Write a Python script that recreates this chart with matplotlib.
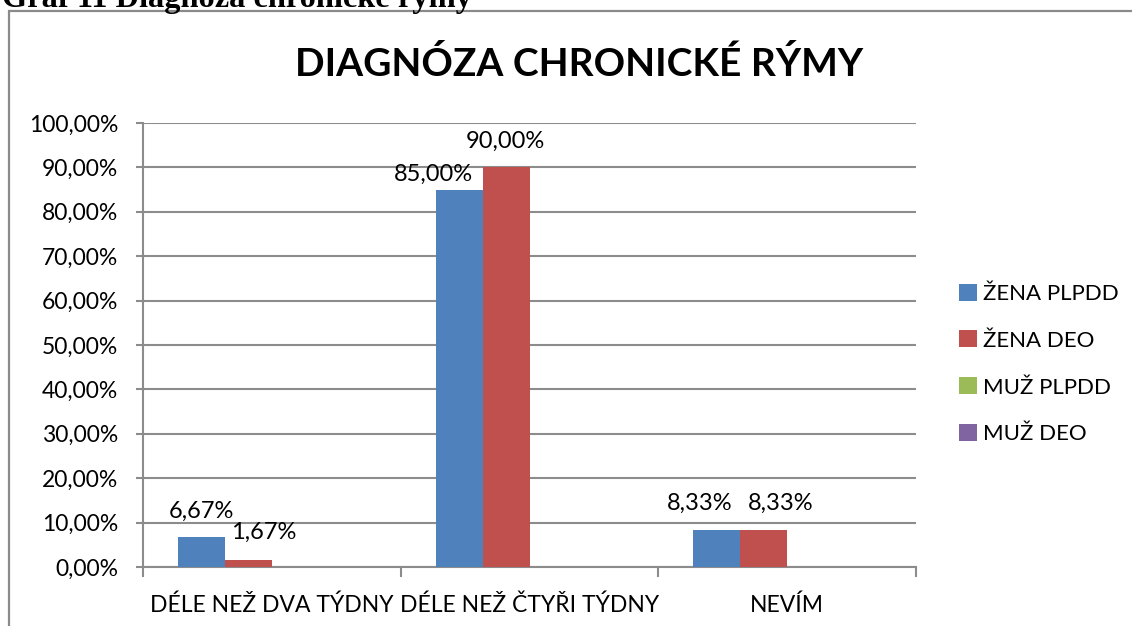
import numpy as np
import matplotlib.pyplot as plt
from matplotlib.patches import Rectangle

categories = ["DÉLE NEŽ DVA TÝDNY", "DÉLE NEŽ ČTYŘI TÝDNY", "NEVÍM"]
series_names = ["ŽENA PLPDD", "ŽENA DEO", "MUŽ PLPDD", "MUŽ DEO"]
zena_plpdd = [0.0667, 0.85, 0.0833]
zena_deo = [0.0167, 0.90, 0.0833]
muz_plpdd = [0.0, 0.0, 0.0]
muz_deo = [0.0, 0.0, 0.0]
yticks = [0.0, 0.1, 0.2, 0.3, 0.4, 0.5, 0.6, 0.7, 0.8, 0.9, 1.0]

colors = ["#4F81BD", "#C0504D", "#9BBB59", "#8064A2"]
# hand placed label offsets (px) as in the original chart
label_offsets = {
    (0, 0): (0, 26), (1, 0): (15, 27),
    (0, 1): (-26, 15), (1, 1): (-1, 26),
    (0, 2): (-17, 27), (1, 2): (17, 27),
}

W, H = 1132, 626
plt.rcParams['font.family'] = ['Lato', 'DejaVu Sans']
fig = plt.figure(figsize=(W / 100, H / 100), dpi=100)

def px(x, y):
    return x / W, 1 - y / H

# outer chart frame
fig.patches.append(Rectangle(px(9, 700), (1140 - 9) / W, (700 - 11) / H,
                             transform=fig.transFigure, fill=False,
                             edgecolor="#8a8a8a", linewidth=1.6))
fig.text(2 / W, 1 - 7 / H, "Graf 11 Diagnóza chronické rýmy", family="Liberation Serif",
         weight="bold", fontsize=23.3, ha="left", va="baseline")

left, right, top, bottom = 143, 916, 123, 567
ax = fig.add_axes([left / W, 1 - bottom / H, (right - left) / W, (bottom - top) / H])

all_series = [zena_plpdd, zena_deo, muz_plpdd, muz_deo]
n = len(all_series)
bw = 1 / (n + 1.5)
x = np.arange(len(categories))
grid_c = "#8c8c8c"
for i, vals in enumerate(all_series):
    pos = x + (i - (n - 1) / 2) * bw
    ax.bar(pos, vals, width=bw, color=colors[i], label=series_names[i], zorder=3)
    for j, v in enumerate(vals):
        if v > 0:
            dx, dy = label_offsets[(i, j)]
            ax.annotate(f"{v * 100:.2f}%".replace(".", ","), (pos[j], v),
                        xytext=(dx * 0.72, dy * 0.72), textcoords="offset points",
                        ha="center", va="center", fontsize=17, color="black")

ax.set_xlim(-0.5, len(categories) - 0.5)
ax.set_ylim(0, 1)
ax.set_yticks(yticks)
ax.set_yticklabels([f"{t * 100:.2f}%".replace(".", ",") for t in yticks], fontsize=16.5)
ax.yaxis.grid(True, color=grid_c, linewidth=1.5, zorder=0)
ax.tick_params(axis="y", length=5, width=1.5, color=grid_c, pad=13)

ax.set_xticks(np.arange(len(categories) + 1) - 0.5)
ax.set_xticklabels([])
ax.set_xticks(x, minor=True)
ax.set_xticklabels(categories, minor=True, fontsize=16.5)
ax.tick_params(axis="x", which="major", length=7, width=1.5, color=grid_c)
ax.tick_params(axis="x", which="minor", length=0, pad=20)

for s in ["top", "right"]:
    ax.spines[s].set_visible(False)
for s in ["left", "bottom"]:
    ax.spines[s].set_color(grid_c)
    ax.spines[s].set_linewidth(1.5)

fig.text(579 / W, 1 - 64 / H, "DIAGNÓZA CHRONICKÉ RÝMY", weight="bold",
         fontsize=28, ha="center", va="center")

fig.legend(loc="center left", bbox_to_anchor=(939 / W, 1 - 364 / H), frameon=False,
           fontsize=16, handlelength=0.8, handleheight=0.8, handletextpad=0.3,
           labelspacing=1.2)

fig.savefig("out.png", dpi=100)
